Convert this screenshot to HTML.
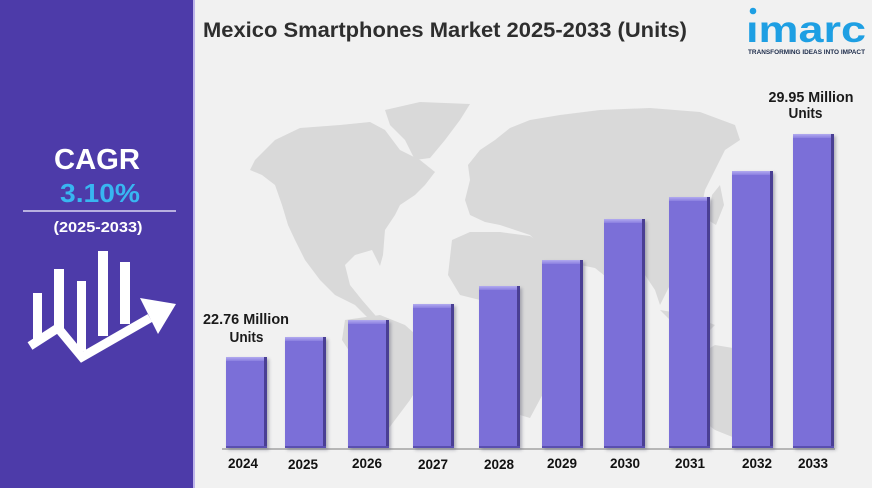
<!DOCTYPE html>
<html><head><meta charset="utf-8"><style>
html,body{margin:0;padding:0;background:#f1f1f1;}
svg{display:block;}
text{font-family:"Liberation Sans",Arial,sans-serif;font-weight:bold;}
</style></head><body>
<svg width="872" height="488" viewBox="0 0 872 488" xmlns="http://www.w3.org/2000/svg">
<defs>
<linearGradient id="top" x1="0" y1="0" x2="0" y2="1"><stop offset="0" stop-color="#b2aaef"/><stop offset="1" stop-color="#8a7fe0"/></linearGradient>
<filter id="sh" x="-20%" y="-5%" width="150%" height="115%"><feGaussianBlur stdDeviation="1.5"/></filter>
</defs>
<rect width="872" height="488" fill="#f1f1f1"/>
<!-- map -->
<g fill="#d9d9d9">
<path d="M255,160 L275,140 L300,128 L340,125 L370,122 L385,130 L400,150 L420,160 L435,172 L425,185 L415,195 L400,205 L395,215 L385,230 L383,255 L380,266 L372,250 L355,255 L345,265 L350,285 L362,300 L375,315 L380,322 L370,320 L355,305 L335,295 L320,280 L305,260 L295,240 L288,225 L282,205 L275,185 L262,175 L250,170 Z"/>
<path d="M385,110 L420,102 L470,104 L460,120 L445,140 L430,158 L415,160 L405,140 L390,125 Z"/>
<path d="M345,320 L380,315 L405,325 L433,350 L425,375 L410,400 L395,420 L380,440 L372,445 L368,420 L365,390 L355,360 L342,340 Z"/>
<path d="M470,180 L468,165 L480,150 L495,140 L510,128 L530,120 L560,115 L600,110 L650,108 L700,112 L735,125 L740,140 L725,150 L715,170 L705,190 L700,215 L690,240 L680,265 L670,285 L660,305 L655,290 L645,275 L630,285 L620,300 L610,280 L595,268 L580,265 L575,285 L560,290 L550,265 L540,245 L530,235 L515,230 L500,225 L485,222 L470,215 L465,200 Z"/>
<path d="M452,240 L470,232 L500,232 L530,236 L548,248 L560,270 L580,290 L570,310 L560,330 L555,360 L545,390 L530,418 L520,415 L510,385 L500,350 L495,320 L480,300 L460,295 L448,275 Z"/>
<path d="M690,360 L715,345 L745,350 L760,375 L755,410 L740,440 L715,430 L695,415 L688,385 Z"/>
<path d="M660,310 L690,315 L715,325 L705,335 L680,330 Z"/>
<path d="M712,195 L720,185 L724,205 L716,225 L708,220 Z"/>
</g>
<!-- left panel -->
<rect x="0" y="0" width="193" height="488" fill="#4d3ba9"/>
<rect x="193" y="0" width="2" height="488" fill="#bdb4ea"/>
<text x="97" y="169" font-size="29" fill="#ffffff" text-anchor="middle" textLength="86" lengthAdjust="spacingAndGlyphs">CAGR</text>
<text x="100" y="202" font-size="26" fill="#38b6f1" text-anchor="middle" textLength="80" lengthAdjust="spacingAndGlyphs">3.10%</text>
<line x1="23" y1="211" x2="176" y2="211" stroke="#dcd8f2" stroke-width="1.5"/>
<text x="98" y="232" font-size="15" fill="#ffffff" text-anchor="middle" textLength="89" lengthAdjust="spacingAndGlyphs">(2025-2033)</text>
<g fill="#ffffff">
<rect x="33" y="293" width="9" height="50"/>
<rect x="54" y="269" width="10" height="60"/>
<rect x="77" y="281" width="9" height="70"/>
<rect x="98" y="251" width="10" height="85"/>
<rect x="120" y="262" width="10" height="62"/>
<polyline points="30,346 58,328 82,357 150,318" fill="none" stroke="#ffffff" stroke-width="9" stroke-linejoin="miter"/>
<polygon points="176,304 140,298 158,334"/>
</g>
<!-- title -->
<text x="203" y="37" font-size="21" fill="#2e2e2e" textLength="484" lengthAdjust="spacingAndGlyphs">Mexico Smartphones Market 2025-2033 (Units)</text>
<!-- logo -->
<circle cx="753" cy="11" r="3.3" fill="#1e9fe3"/>
<text x="746" y="42" font-size="37" fill="#1e9fe3" textLength="120" lengthAdjust="spacingAndGlyphs">ımarc</text>
<text x="748" y="54" font-size="6.5" fill="#1c2b4a" textLength="117" lengthAdjust="spacingAndGlyphs">TRANSFORMING IDEAS INTO IMPACT</text>
<!-- axis -->
<line x1="222" y1="449" x2="835" y2="449" stroke="#7a7a7a" stroke-width="1"/>
<!-- bars -->
<g id="bars">
<g><rect x="228" y="359" width="41" height="91" fill="#6d6d80" opacity="0.5" filter="url(#sh)"/><rect x="226" y="357" width="41" height="91" fill="#7b6fd8"/><rect x="226" y="357" width="41" height="4" fill="url(#top)"/><rect x="264" y="357" width="3" height="91" fill="#4a3f94"/><rect x="226" y="446" width="41" height="2" fill="#5a4fb0"/></g>
<g><rect x="287" y="339" width="41" height="111" fill="#6d6d80" opacity="0.5" filter="url(#sh)"/><rect x="285" y="337" width="41" height="111" fill="#7b6fd8"/><rect x="285" y="337" width="41" height="4" fill="url(#top)"/><rect x="323" y="337" width="3" height="111" fill="#4a3f94"/><rect x="285" y="446" width="41" height="2" fill="#5a4fb0"/></g>
<g><rect x="350" y="322" width="41" height="128" fill="#6d6d80" opacity="0.5" filter="url(#sh)"/><rect x="348" y="320" width="41" height="128" fill="#7b6fd8"/><rect x="348" y="320" width="41" height="4" fill="url(#top)"/><rect x="386" y="320" width="3" height="128" fill="#4a3f94"/><rect x="348" y="446" width="41" height="2" fill="#5a4fb0"/></g>
<g><rect x="415" y="306" width="41" height="144" fill="#6d6d80" opacity="0.5" filter="url(#sh)"/><rect x="413" y="304" width="41" height="144" fill="#7b6fd8"/><rect x="413" y="304" width="41" height="4" fill="url(#top)"/><rect x="451" y="304" width="3" height="144" fill="#4a3f94"/><rect x="413" y="446" width="41" height="2" fill="#5a4fb0"/></g>
<g><rect x="481" y="288" width="41" height="162" fill="#6d6d80" opacity="0.5" filter="url(#sh)"/><rect x="479" y="286" width="41" height="162" fill="#7b6fd8"/><rect x="479" y="286" width="41" height="4" fill="url(#top)"/><rect x="517" y="286" width="3" height="162" fill="#4a3f94"/><rect x="479" y="446" width="41" height="2" fill="#5a4fb0"/></g>
<g><rect x="544" y="262" width="41" height="188" fill="#6d6d80" opacity="0.5" filter="url(#sh)"/><rect x="542" y="260" width="41" height="188" fill="#7b6fd8"/><rect x="542" y="260" width="41" height="4" fill="url(#top)"/><rect x="580" y="260" width="3" height="188" fill="#4a3f94"/><rect x="542" y="446" width="41" height="2" fill="#5a4fb0"/></g>
<g><rect x="606" y="221" width="41" height="229" fill="#6d6d80" opacity="0.5" filter="url(#sh)"/><rect x="604" y="219" width="41" height="229" fill="#7b6fd8"/><rect x="604" y="219" width="41" height="4" fill="url(#top)"/><rect x="642" y="219" width="3" height="229" fill="#4a3f94"/><rect x="604" y="446" width="41" height="2" fill="#5a4fb0"/></g>
<g><rect x="671" y="199" width="41" height="251" fill="#6d6d80" opacity="0.5" filter="url(#sh)"/><rect x="669" y="197" width="41" height="251" fill="#7b6fd8"/><rect x="669" y="197" width="41" height="4" fill="url(#top)"/><rect x="707" y="197" width="3" height="251" fill="#4a3f94"/><rect x="669" y="446" width="41" height="2" fill="#5a4fb0"/></g>
<g><rect x="734" y="173" width="41" height="277" fill="#6d6d80" opacity="0.5" filter="url(#sh)"/><rect x="732" y="171" width="41" height="277" fill="#7b6fd8"/><rect x="732" y="171" width="41" height="4" fill="url(#top)"/><rect x="770" y="171" width="3" height="277" fill="#4a3f94"/><rect x="732" y="446" width="41" height="2" fill="#5a4fb0"/></g>
<g><rect x="795" y="136" width="41" height="314" fill="#6d6d80" opacity="0.5" filter="url(#sh)"/><rect x="793" y="134" width="41" height="314" fill="#7b6fd8"/><rect x="793" y="134" width="41" height="4" fill="url(#top)"/><rect x="831" y="134" width="3" height="314" fill="#4a3f94"/><rect x="793" y="446" width="41" height="2" fill="#5a4fb0"/></g>
</g>
<!-- year labels -->
<g font-size="13.5" fill="#111111" text-anchor="middle">
<text x="243" y="468">2024</text>
<text x="303" y="469">2025</text>
<text x="367" y="468">2026</text>
<text x="433" y="469">2027</text>
<text x="499" y="469">2028</text>
<text x="562" y="468">2029</text>
<text x="625" y="468">2030</text>
<text x="690" y="468">2031</text>
<text x="757" y="468">2032</text>
<text x="813" y="468">2033</text>
</g>
<!-- value labels -->
<g font-size="15" fill="#1a1a1a" text-anchor="middle">
<text x="246" y="324" textLength="86" lengthAdjust="spacingAndGlyphs">22.76 Million</text>
<text x="246.5" y="342" textLength="34" lengthAdjust="spacingAndGlyphs">Units</text>
<text x="811" y="102" textLength="85" lengthAdjust="spacingAndGlyphs">29.95 Million</text>
<text x="805.5" y="118" textLength="34" lengthAdjust="spacingAndGlyphs">Units</text>
</g>
</svg>
</body></html>
